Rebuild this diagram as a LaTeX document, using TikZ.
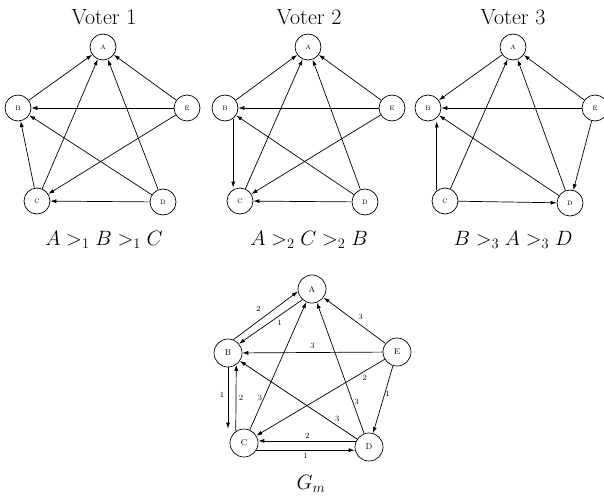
\documentclass[tikz,border=0pt]{standalone}
\usetikzlibrary{arrows.meta,calc}
\begin{document}
\begin{tikzpicture}[x=1pt,y=-1pt,
  vnode/.style={circle,draw,line width=0.7pt,minimum size=26pt,inner sep=0pt,font=\fontsize{6.5}{7}\selectfont},
  gnode/.style={circle,draw,line width=0.7pt,minimum size=28pt,inner sep=0pt,font=\fontsize{8.5}{9}\selectfont},
  arr/.style={line width=0.7pt,-{Latex[length=6pt,width=4pt]}},
  lbl/.style={font=\fontsize{8}{8}\selectfont,inner sep=0pt,anchor=center},
  ttl/.style={font=\fontsize{22}{24}\selectfont,inner sep=0pt}]
\useasboundingbox (0,0) rectangle (604,500);

% ---------------- Voter 1
\node[ttl] (t1) at (104,17) {Voter 1};
\node[vnode] (a1) at (103,47) {A};
\node[vnode] (b1) at (18,108) {B};
\node[vnode] (e1) at (187,108) {E};
\node[vnode] (c1) at (37,201) {C};
\node[vnode] (d1) at (163,202) {D};
\node[ttl] (m1) at (104,240) {$A >_1 B >_1 C$};
\draw[arr] (b1) -- (a1);
\draw[arr] (c1) -- (a1);
\draw[arr] (d1) -- (a1);
\draw[arr] (e1) -- (a1);
\draw[arr] (e1) -- (b1);
\draw[arr] (d1) -- (b1);
\draw[arr] (c1) -- (b1);
\draw[arr] (e1) -- (c1);
\draw[arr] (d1) -- (c1);

% ---------------- Voter 2
\node[ttl] (t2) at (309,17) {Voter 2};
\node[vnode] (a2) at (308,47) {A};
\node[vnode] (b2) at (225,108) {B};
\node[vnode] (e2) at (392,108) {E};
\node[vnode] (c2) at (240,201) {C};
\node[vnode] (d2) at (365,202) {D};
\node[ttl] (m2) at (309,240) {$A >_2 C >_2 B$};
\draw[arr] (b2) -- (a2);
\draw[arr] (c2) -- (a2);
\draw[arr] (d2) -- (a2);
\draw[arr] (e2) -- (a2);
\draw[arr] (e2) -- (b2);
\draw[arr] (d2) -- (b2);
\draw[arr] (b2.-52) -- (b2.-52 |- c2.north);
\draw[arr] (e2) -- (c2);
\draw[arr] (d2) -- (c2);

% ---------------- Voter 3
\node[ttl] (t3) at (513,17) {Voter 3};
\node[vnode] (a3) at (513,47) {A};
\node[vnode] (b3) at (428,108) {B};
\node[vnode] (e3) at (595,108) {E};
\node[vnode] (c3) at (445,201) {C};
\node[vnode] (d3) at (570,203) {D};
\node[ttl] (m3) at (513,240) {$B >_3 A >_3 D$};
\draw[arr] (a3) -- (b3);
\draw[arr] (c3) -- (a3);
\draw[arr] (d3) -- (a3);
\draw[arr] (e3) -- (a3);
\draw[arr] (e3) -- (b3);
\draw[arr] (d3) -- (b3);
\draw[arr] (c3.128) -- (c3.128 |- b3.south);
\draw[arr] (c3) -- (d3);
\draw[arr] (e3) -- (d3);

% ---------------- Majority graph
\node[gnode] (gA) at (312,289) {A};
\node[gnode] (gB) at (228,353) {B};
\node[gnode] (gE) at (397,352) {E};
\node[gnode] (gC) at (244,443) {C};
\node[gnode] (gD) at (369,447) {D};
\node[ttl] (gm) at (311,484) {$G_m$};

\draw[arr] (gB.68) -- node[lbl,pos=0.45,xshift=-4pt,yshift=9pt] {2} (gA.190);
\draw[arr] (gA.228) -- node[lbl,pos=0.42,xshift=4pt,yshift=-5pt] {1} (gB.40);
\draw[arr] (gE) -- node[lbl,pos=0.45,xshift=3pt,yshift=6pt] {3} (gA);
\draw[arr] (gE) -- node[lbl,pos=0.5,yshift=7pt] {3} (gB);
\draw[arr] (gE) -- node[lbl,pos=0.17,xshift=2pt,yshift=-6pt] {2} (gC);
\draw[arr] (gE) -- node[lbl,pos=0.42,xshift=3pt] {1} (gD);
\draw[arr] (gC) -- node[lbl,pos=0.25,xshift=-4pt] {3} (gA);
\draw[arr] (gD) -- node[lbl,pos=0.24,xshift=4pt] {3} (gA);
\draw[arr] (gD) -- node[lbl,pos=0.17,yshift=7pt] {3} (gB);
\draw[arr] (gB.south) -- node[lbl,pos=0.45,xshift=-6pt] {1} (gB.south |- gC.north);
\draw[arr] (gC.125) -- node[lbl,pos=0.5,xshift=5pt] {2} (gB.-55);
\draw[arr] (gD.155) -- node[lbl,pos=0.5,yshift=5pt] {2} (gD.155 -| gC.east);
\draw[arr] (gC.-30) -- node[lbl,pos=0.5,yshift=-6pt] {1} (gD.west |- gC.-30);
\end{tikzpicture}
\end{document}
